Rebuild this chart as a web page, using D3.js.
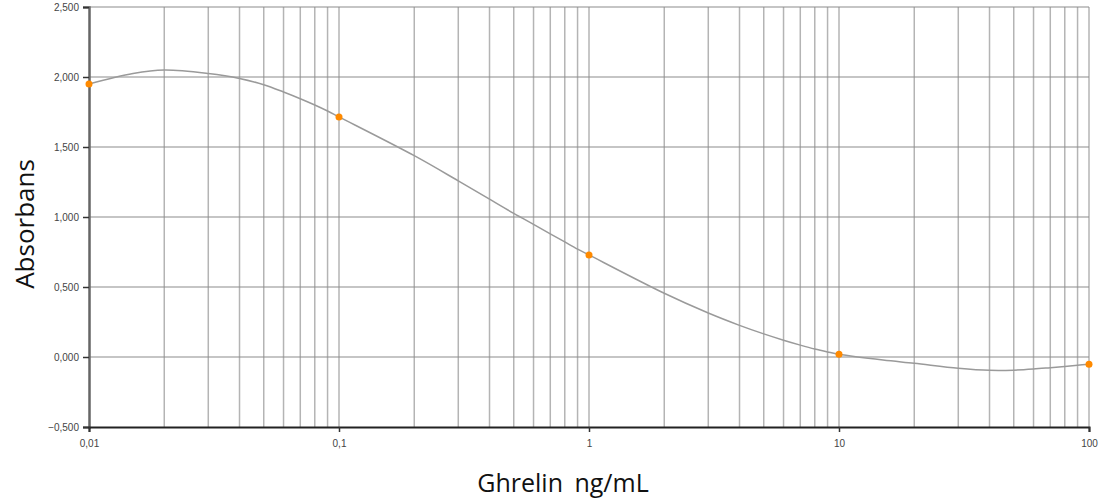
<!DOCTYPE html>
<html>
<head>
<meta charset="utf-8">
<script src="https://cdn.jsdelivr.net/npm/d3@7"></script>
<style>
  html, body { margin: 0; padding: 0; background: #fff; }
  svg { display: block; }
</style>
</head>
<body>
<svg id="chart" width="1105" height="503"></svg>
<script>
// Measured standards (orange points)
const pointX = [0.01, 0.1, 1, 10, 100];
const pointY = [1.950, 1.715, 0.729, 0.019, -0.052];

// Fitted curve
const curveX = [0.01, 0.015, 0.02, 0.03, 0.04, 0.05, 0.06, 0.07, 0.08, 0.09,
                0.1, 0.2, 0.3, 0.4, 0.5, 0.6, 0.7, 0.8, 0.9,
                1, 2, 3, 4, 5, 6, 7, 8, 9,
                10, 15, 20, 30, 40, 50, 60, 70, 80, 90, 100];
const curveY = [1.950, 2.025, 2.050, 2.025, 1.990, 1.945, 1.893, 1.845, 1.800, 1.757,
                1.715, 1.438, 1.258, 1.127, 1.026, 0.947, 0.880, 0.822, 0.771,
                0.729, 0.455, 0.314, 0.226, 0.165, 0.120, 0.085, 0.057, 0.036,
                0.019, -0.022, -0.045, -0.080, -0.095, -0.094, -0.086, -0.076, -0.067, -0.059, -0.052];

const yTicks = [-0.5, 0, 0.5, 1, 1.5, 2, 2.5];
const xTicks = [0.01, 0.1, 1, 10, 100];
const xTickLabels = ["0,01", "0,1", "1", "10", "100"];
const xTitle = "Ghrelin ng/mL";
const yTitle = "Absorbans";

const svg = d3.select("#chart");
const pLeft = 89, pRight = 1089, pTop = 7, pBottom = 427;

const x = d3.scaleLog().domain([0.01, 100]).range([pLeft, pRight]);
const y = d3.scaleLinear().domain([-0.5, 2.5]).range([pBottom, pTop]);

// minor vertical grid
const minor = [];
[0.01, 0.1, 1, 10].forEach(d => { for (let k = 1; k <= 10; k++) minor.push(+(d * k).toPrecision(6)); });
const vgrid = Array.from(new Set(minor)).filter(v => v > 0.01);
svg.append("g").selectAll("line").data(vgrid).join("line")
  .attr("x1", d => x(d)).attr("x2", d => x(d))
  .attr("y1", pTop).attr("y2", pBottom)
  .attr("stroke", "#b4b4b4").attr("stroke-width", 1.5);

// horizontal grid
svg.append("g").selectAll("line").data(yTicks.filter(v => v > -0.5)).join("line")
  .attr("x1", pLeft).attr("x2", pRight)
  .attr("y1", d => y(d)).attr("y2", d => y(d))
  .attr("stroke", "#8c8c8c").attr("stroke-width", 1.2);

// Y axis
const yAxis = d3.axisLeft(y).tickValues(yTicks).tickSize(6).tickPadding(4)
  .tickFormat(d => d3.format(".3f")(d).replace(".", ","));
const gy = svg.append("g").attr("transform", `translate(${pLeft},0)`).call(yAxis);
gy.select(".domain").attr("stroke", "#666").attr("stroke-width", 2.5);
gy.selectAll(".tick line").attr("stroke", "#333").attr("stroke-width", 1.5);
gy.selectAll(".tick text").attr("fill", "#444").attr("font-family", "Liberation Sans, Arial, sans-serif")
  .attr("font-size", 10);

// X axis
const xAxis = d3.axisBottom(x).tickValues(xTicks).tickSize(5).tickPadding(8)
  .tickFormat((d, i) => xTickLabels[i]);
const gx = svg.append("g").attr("transform", `translate(0,${pBottom})`).call(xAxis);
gx.select(".domain").attr("stroke", "#222").attr("stroke-width", 2);
gx.selectAll(".tick line").attr("stroke", "#333").attr("stroke-width", 1.5);
gx.selectAll(".tick text").attr("fill", "#444").attr("font-family", "Liberation Sans, Arial, sans-serif")
  .attr("font-size", 10);

// curve
const line = d3.line().x(d => x(d[0])).y(d => y(d[1])).curve(d3.curveCatmullRom.alpha(0.5));
svg.append("path").datum(curveX.map((v, i) => [v, curveY[i]]))
  .attr("d", line).attr("fill", "none").attr("stroke", "#9a9a9a").attr("stroke-width", 1.5);

// points
svg.append("g").selectAll("circle").data(pointX.map((v, i) => [v, pointY[i]])).join("circle")
  .attr("cx", d => x(d[0])).attr("cy", d => y(d[1])).attr("r", 3.5)
  .attr("fill", "#ff8a00");

// titles
svg.append("text").attr("x", 563).attr("y", 492).attr("text-anchor", "middle")
  .attr("font-family", "Open Sans, sans-serif").attr("font-size", 25).attr("fill", "#111")
  .attr("word-spacing", 5)
  .text(xTitle);
svg.append("text").attr("transform", "translate(34,224) rotate(-90)").attr("text-anchor", "middle")
  .attr("font-family", "Open Sans, sans-serif").attr("font-size", 26).attr("fill", "#111")
  .text(yTitle);
</script>
</body>
</html>
